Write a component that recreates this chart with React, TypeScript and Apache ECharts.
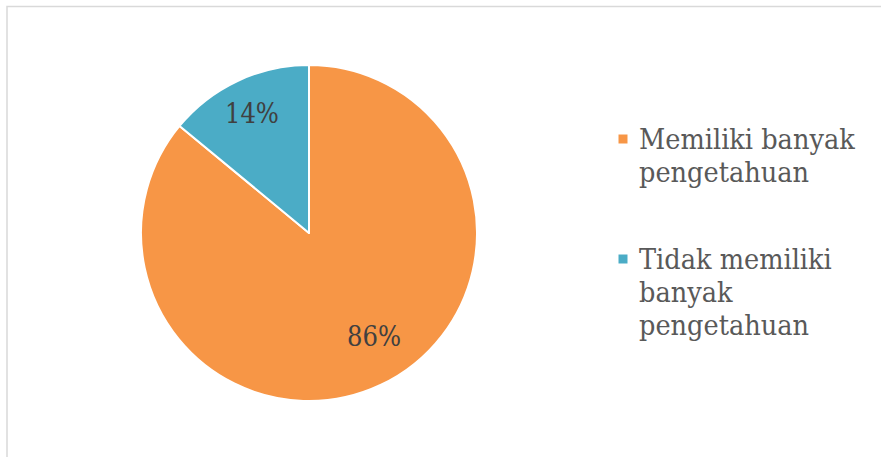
import React, { useEffect, useRef } from "react";
import * as echarts from "echarts";

const categories = ["Memiliki banyak pengetahuan", "Tidak memiliki banyak pengetahuan"];
const values = [86, 14];
const legendLines = [
  ["Memiliki banyak", "pengetahuan"],
  ["Tidak memiliki", "banyak", "pengetahuan"],
];

const COLORS = ["#F79646", "#4BACC6"];
const LABEL_OFFSETS = [
  { dx: 28, dy: 25 },
  { dx: -20, dy: -41 },
];
const FONT = "DejaVu Serif Condensed, DejaVu Serif";
const LINE_H = 33;
const LEGEND_ICON_CENTERS = [139, 259];

export default function App() {
  const ref = useRef<HTMLDivElement>(null);
  useEffect(() => {
    if (!ref.current) return;
    const chart = echarts.init(ref.current, null, { renderer: "svg" });
    const legends = categories.map((name, i) => {
      const n = legendLines[i].length;
      const top = LEGEND_ICON_CENTERS[i] - (LINE_H * (2 * n - 1)) / 2;
      return {
        data: [name],
        orient: "vertical",
        left: 616.5,
        top,
        padding: 0,
        itemWidth: 22,
        itemHeight: 11,
        icon: "path://M0,0h11v11h-11z",
        symbolKeepAspect: true,
        selectedMode: false,
        formatter: (nm: string) => {
          const lines = legendLines[categories.indexOf(nm)];
          return "\n".repeat(lines.length - 1) + lines.join("\n");
        },
        textStyle: {
          fontFamily: FONT,
          fontSize: 28.5,
          color: "#595959",
          lineHeight: LINE_H,
        },
      };
    });
    chart.setOption({
      animation: false,
      backgroundColor: "#ffffff",
      color: COLORS,
      textStyle: { fontFamily: FONT },
      graphic: [
        {
          type: "rect",
          shape: { x: 7, y: 6.5, width: 950, height: 550 },
          style: { fill: "none", stroke: "#d9d9d9", lineWidth: 1.5 },
          silent: true,
        },
      ],
      legend: legends,
      series: [
        {
          type: "pie",
          center: [309, 233],
          radius: 168,
          startAngle: 90,
          clockwise: true,
          avoidLabelOverlap: false,
          itemStyle: { borderColor: "#ffffff", borderWidth: 2 },
          label: {
            show: true,
            position: "inside",
            formatter: "{d}%",
            fontFamily: FONT,
            fontSize: 27,
            color: "#404040",
          },
          labelLine: { show: false },
          labelLayout: (p: any) => LABEL_OFFSETS[p.dataIndex],
          emphasis: { disabled: true },
          data: categories.map((name, i) => ({ name, value: values[i] })),
        },
      ],
    });
    return () => chart.dispose();
  }, []);
  return (
    <div
      ref={ref}
      style={{ position: "absolute", left: 0, top: 0, width: 881, height: 457 }}
    />
  );
}
